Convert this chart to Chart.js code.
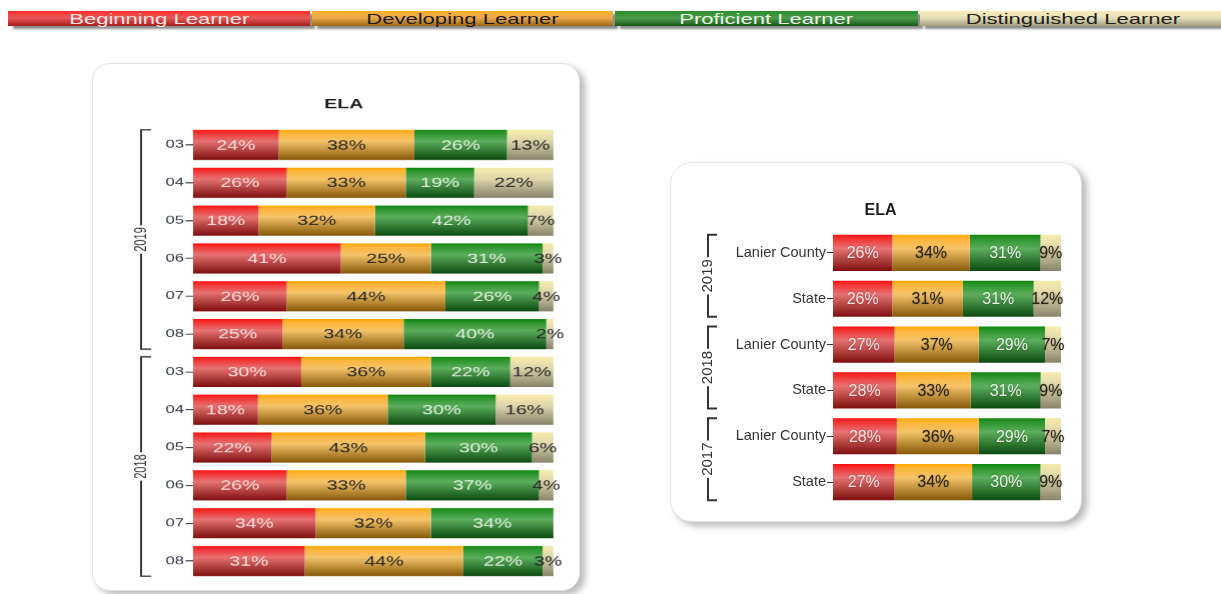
<!DOCTYPE html>
<html>
<head>
<meta charset="utf-8">
<script src="https://cdn.jsdelivr.net/npm/chart.js@4.4.1/dist/chart.umd.min.js"></script>
<style>
body{margin:0;background:#fff;width:1221px;height:594px;overflow:hidden;position:relative;font-family:"Liberation Sans",Arial,sans-serif}
.leg{position:absolute;top:11px;height:15px;line-height:15px;font-size:15px;text-align:center;white-space:nowrap;box-shadow:5px 3px 2px rgba(0,0,0,.45)}
.leg span{display:inline-block;transform:scaleX(1.47)}
.card{position:absolute;box-sizing:border-box;background:#fff;border:1px solid #e2e2e2;box-shadow:5px 4px 7px rgba(0,0,0,.28)}
.wrap{position:absolute}
</style>
</head>
<body>
<div id="legend"></div>
<div class="card" style="left:92px;top:63px;width:488px;height:528px;border-radius:18px"></div>
<div class="card" style="left:670px;top:162px;width:412px;height:360px;border-radius:22px"></div>
<div class="wrap" style="left:92px;top:63px;transform:scaleX(1.5);transform-origin:0 0"><canvas id="gradeChart" width="325" height="528"></canvas></div>
<div class="wrap" style="left:670px;top:162px"><canvas id="compChart" width="412" height="360"></canvas></div>
<script>
// performance levels
const levels = ['Beginning Learner', 'Developing Learner', 'Proficient Learner', 'Distinguished Learner'];

// left chart: grades by year
const gradeLabels = ['03','04','05','06','07','08','03','04','05','06','07','08'];
const gradeYears = ['2019','2019','2019','2019','2019','2019','2018','2018','2018','2018','2018','2018'];
const gradeBeginning = [24,26,18,41,26,25,30,18,22,26,34,31];
const gradeDeveloping = [38,33,32,25,44,34,36,36,43,33,32,44];
const gradeProficient = [26,19,42,31,26,40,22,30,30,37,34,22];
const gradeDistinguished = [13,22,7,3,4,2,12,16,6,4,0,3];

// right chart: county vs state
const compLabels = ['Lanier County','State','Lanier County','State','Lanier County','State'];
const compYears = ['2019','2019','2018','2018','2017','2017'];
const compBeginning = [26,26,27,28,28,27];
const compDeveloping = [34,31,37,33,36,34];
const compProficient = [31,31,29,31,29,30];
const compDistinguished = [9,12,7,9,7,9];

const chartTitle = 'ELA';

// gradient stops per level (top -> bottom)
const levelStops = [
  [[0,'#ff1010'],[0.12,'#f23636'],[0.38,'#e77272'],[1,'#7e0e0e']],
  [[0,'#ffa800'],[0.12,'#fdb53a'],[0.38,'#f5c46a'],[1,'#855708']],
  [[0,'#0e870e'],[0.12,'#2e952e'],[0.38,'#5cae5c'],[1,'#0b4a10']],
  [[0,'#f3eba6'],[0.12,'#f0e6ae'],[0.38,'#ddd5ac'],[1,'#88826a']]
];
const legendStops = [
  'linear-gradient(#ff2a2a,#e65858 45%,#a61c1c)',
  'linear-gradient(#ffb02a,#eaa84e 45%,#9c6812)',
  'linear-gradient(#2a8e2a,#4c9c4c 45%,#1a581a)',
  'linear-gradient(#f6eeb4,#e6dfba 45%,#a49e80)'
];
const legendText = ['#fbe4e4','#1c1c1c','#e6f3e6','#202020'];
const legendX = [8,312,615,920];
const legendW = [302,301,303,305];

// legend strip
const legEl = document.getElementById('legend');
levels.forEach((name,i)=>{
  const d = document.createElement('div');
  d.className = 'leg';
  d.style.left = legendX[i]+'px';
  d.style.width = legendW[i]+'px';
  d.style.background = legendStops[i];
  d.style.color = legendText[i];
  const s = document.createElement('span');
  s.textContent = name;
  d.appendChild(s);
  legEl.appendChild(d);
});

function barFill(stops){
  return function(c){
    const chart = c.chart, area = chart.chartArea;
    if (c.type !== 'data' || !area) return stops[2][1];
    const n = chart.data.labels.length;
    const half = area.height / n * c.dataset.barPercentage / 2;
    const cy = chart.scales.y.getPixelForValue(c.dataIndex);
    const g = chart.ctx.createLinearGradient(0, cy-half, 0, cy+half);
    stops.forEach(s=>g.addColorStop(s[0], s[1]));
    return g;
  };
}

function buildDatasets(series, pct){
  const totals = series[0].map((_,i)=>series.reduce((a,s)=>a+s[i],0));
  return series.map((vals,k)=>({
    label: levels[k],
    data: vals.map((v,i)=>v/totals[i]*100),
    raw: vals,
    backgroundColor: barFill(levelStops[k]),
    borderWidth: 0,
    categoryPercentage: 1,
    barPercentage: pct
  }));
}

// percentage labels inside the segments
const barLabels = {
  id: 'barLabels',
  afterDatasetsDraw(chart, args, opts){
    const ctx = chart.ctx;
    ctx.save();
    ctx.font = opts.font;
    ctx.textAlign = 'center';
    ctx.textBaseline = 'middle';
    chart.data.datasets.forEach((ds,k)=>{
      chart.getDatasetMeta(k).data.forEach((el,i)=>{
        const v = ds.raw[i];
        if (!v) return;
        ctx.shadowColor = opts.shadow;
        ctx.shadowBlur = 2;
        ctx.fillStyle = opts.colors[k];
        ctx.fillText(v+'%', (el.x+el.base)/2, el.y+opts.dy);
      });
    });
    ctx.restore();
  }
};

// year brackets on the left
const yearBrackets = {
  id: 'yearBrackets',
  afterDraw(chart, args, opts){
    const ctx = chart.ctx, y = chart.scales.y;
    const meta = chart.getDatasetMeta(0).data;
    const years = opts.years;
    const groups = [];
    years.forEach((yr,i)=>{
      if (!groups.length || groups[groups.length-1].label !== yr) groups.push({label:yr, from:i, to:i});
      else groups[groups.length-1].to = i;
    });
    ctx.save();
    ctx.strokeStyle = opts.color;
    ctx.fillStyle = opts.color;
    ctx.lineWidth = opts.lineWidth;
    ctx.font = opts.font;
    ctx.textAlign = 'center';
    ctx.textBaseline = 'middle';
    const x = opts.x;
    groups.forEach(g=>{
      const top = y.getPixelForValue(g.from) - meta[g.from].height/2;
      const bot = y.getPixelForValue(g.to) + meta[g.to].height/2;
      const mid = (top+bot)/2;
      const gap = ctx.measureText(g.label).width/2 + 2;
      ctx.beginPath();
      ctx.moveTo(x+opts.serif, top); ctx.lineTo(x, top); ctx.lineTo(x, mid-gap);
      ctx.moveTo(x, mid+gap); ctx.lineTo(x, bot); ctx.lineTo(x+opts.serif, bot);
      ctx.stroke();
      ctx.save();
      ctx.translate(x, mid);
      ctx.rotate(-Math.PI/2);
      ctx.fillText(g.label, 0, 0);
      ctx.restore();
    });
    ctx.restore();
  }
};

function makeChart(id, cfg){
  return new Chart(document.getElementById(id), {
    type: 'bar',
    data: { labels: cfg.labels, datasets: buildDatasets(cfg.series, cfg.pct) },
    plugins: [barLabels, yearBrackets],
    options: {
      indexAxis: 'y',
      responsive: false,
      animation: false,
      devicePixelRatio: cfg.dpr,
      layout: { padding: cfg.padding },
      scales: {
        x: { stacked: true, min: 0, max: 100, display: false },
        y: {
          stacked: true,
          border: { display: false },
          grid: { offset: false, drawOnChartArea: false, drawTicks: true, tickLength: cfg.tickLength, color: '#333', lineWidth: 1 },
          ticks: { autoSkip: false, padding: 1, color: cfg.tickColor, font: cfg.tickFont },
          afterFit(scale){ scale.width = cfg.axisWidth; }
        }
      },
      plugins: {
        legend: { display: false },
        tooltip: { enabled: false },
        title: { display: true, text: chartTitle, color: '#1e1e1e', font: cfg.titleFont, padding: cfg.titlePadding },
        barLabels: cfg.barLabels,
        yearBrackets: cfg.brackets
      }
    }
  });
}

makeChart('gradeChart', {
  labels: gradeLabels,
  series: [gradeBeginning, gradeDeveloping, gradeProficient, gradeDistinguished],
  pct: 0.8,
  dpr: 1.5,
  padding: { left: 28, right: 17.7, top: 28, bottom: 11 },
  axisWidth: 39.3,
  tickLength: 5,
  tickColor: '#2b3445',
  tickFont: { family: 'Liberation Sans', size: 11 },
  titleFont: { family: 'Liberation Sans', size: 13, weight: 'bold' },
  titlePadding: { top: 6, bottom: 13.4 },
  barLabels: { font: '13px "Liberation Sans"', colors: ['#f7dfdf','#262626','#e2f1e2','#262626'], shadow: 'rgba(0,0,0,0)', dy: 1 },
  brackets: { years: gradeYears, x: 32.7, serif: 6.7, lineWidth: 1.3, color: '#333', font: '11px "Liberation Sans"' }
});

makeChart('compChart', {
  labels: compLabels,
  series: [compBeginning, compDeveloping, compProficient, compDistinguished],
  pct: 0.79,
  dpr: 1,
  padding: { left: 30, right: 21, top: 30, bottom: 17 },
  axisWidth: 133,
  tickLength: 6,
  tickColor: '#333',
  tickFont: { family: 'Liberation Sans', size: 14.5 },
  titleFont: { family: 'Liberation Sans', size: 16, weight: 'bold' },
  titlePadding: { top: 9, bottom: 9.8 },
  barLabels: { font: '16px "Liberation Sans"', colors: ['#f7e2e2','#2a2418','#e6f3e6','#2a2418'], shadow: 'rgba(0,0,0,0.35)', dy: 1 },
  brackets: { years: compYears, x: 38, serif: 9, lineWidth: 2, color: '#333', font: '15px "Liberation Sans"' }
});
</script>
</body>
</html>
